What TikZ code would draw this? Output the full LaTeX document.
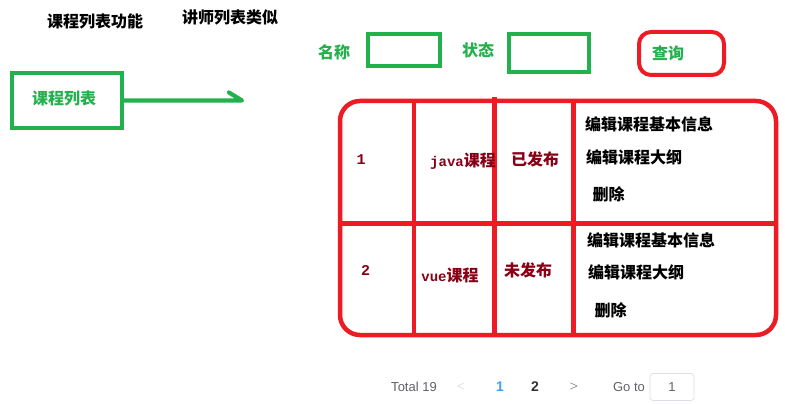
\documentclass[tikz,border=0pt]{standalone}
\usepackage{fontspec}
\setmainfont{Liberation Sans}
\newfontfamily\cjk{Noto Sans CJK SC}
\newfontfamily\mono{Liberation Mono}
\definecolor{pgreen}{RGB}{34,177,76}
\definecolor{pred}{RGB}{237,28,36}
\definecolor{dred}{RGB}{136,0,21}
\definecolor{elgray}{RGB}{96,98,102}
\definecolor{elblue}{RGB}{64,158,255}
\definecolor{eldark}{RGB}{48,49,51}
\definecolor{elborder}{RGB}{220,223,230}
\definecolor{ellight}{RGB}{192,196,204}
\tikzset{
  cjkfont/.style={font=\cjk\bfseries\fontsize{16}{19}\selectfont, inner sep=0pt},
  titletext/.style={cjkfont, text=black},
  gtext/.style={cjkfont, text=pgreen},
  rtext/.style={cjkfont, text=dred},
  acttext/.style={cjkfont, text=black, anchor=west},
  numtext/.style={font=\mono\bfseries\fontsize{15}{17}\selectfont, text=dred, inner sep=0pt},
  gbox/.style={draw=pgreen, line width=4pt, inner sep=0pt},
  qbox/.style={draw=pred, line width=4pt, rounded corners=12pt, inner sep=0pt},
  garrow/.style={draw=pgreen, line width=4.2pt, line cap=round, line join=round},
  redline/.style={draw=pred, line width=4.5pt},
  pgtext/.style={font=\fontsize{13}{15}\selectfont, inner sep=0pt},
  pgnum/.style={font=\bfseries\fontsize{14}{16}\selectfont, inner sep=0pt},
}
\begin{document}
\begin{tikzpicture}[x=1pt,y=-1pt]
\useasboundingbox[fill=white] (0,0) rectangle (785,404);

% titles
\node[titletext] (t1) at (95,21) {课程列表功能};
\node[titletext] (t2) at (230,17) {讲师列表类似};

% course list box and arrow
\node[gbox, minimum width=110pt, minimum height=55pt] (lst) at (67,100.5) {};
\node[gtext] (lsttext) at (64,98) {课程列表};
\coordinate (aend) at (242,100.5);
\draw[garrow] (lst.east) -- (aend) -- ++(-13,-8);

% search bar
\node[gtext] (namelbl) at (334,52) {名称};
\node[gbox, minimum width=72pt, minimum height=32pt] (namebox) at (404,50) {};
\node[gtext] (statelbl) at (478,50) {状态};
\node[gbox, minimum width=80pt, minimum height=38pt] (statebox) at (549,53) {};
\node[qbox, minimum width=85pt, minimum height=43pt] (qbtn) at (681.5,53.5) {};
\node[gtext] (qtext) at (668,53) {查询};

% table
\draw[redline, rounded corners=20pt] (340,101) rectangle (776,335);
\draw[redline] (340,223.5) -- (776,223.5);
\draw[redline] (414,101) -- (414,335);
\draw[redline] (494.5,97) -- (494.5,335);
\draw[redline] (573.5,101) -- (573.5,335);

% row 1
\node[numtext] (r1n) at (361,160) {1};
\node[rtext] (r1c) at (463,161) {{\mono\fontsize{14}{16}\selectfont java}课程};
\node[rtext] (r1s) at (535,159) {已发布};
\node[acttext] (r1a) at (585,124.5) {编辑课程基本信息};
\node[acttext] (r1b) at (586,157) {编辑课程大纲};
\node[acttext] (r1d) at (592.5,194) {删除};

% row 2
\node[numtext] (r2n) at (365.5,270) {2};
\node[rtext] (r2c) at (450,275) {{\mono\fontsize{14}{16}\selectfont vue}课程};
\node[rtext] (r2s) at (528,270) {未发布};
\node[acttext] (r2a) at (587,240) {编辑课程基本信息};
\node[acttext] (r2b) at (588,272.5) {编辑课程大纲};
\node[acttext] (r2d) at (594.5,310) {删除};

% pagination
\node[pgtext, text=elgray] (total) at (414,387) {Total 19};
\node[pgtext, text=ellight] (prev) at (461,386) {$<$};
\node[pgnum, text=elblue] (p1) at (500,387) {1};
\node[pgnum, text=eldark] (p2) at (535,387) {2};
\node[pgtext, text=eldark] (next) at (574,386) {$>$};
\node[pgtext, text=elgray] (goto) at (629,387) {Go to};
\node[draw=elborder, line width=0.8pt, rounded corners=3pt, minimum width=44pt, minimum height=27pt, pgtext, text=elgray] (gobox) at (672,387) {1};
\end{tikzpicture}
\end{document}
